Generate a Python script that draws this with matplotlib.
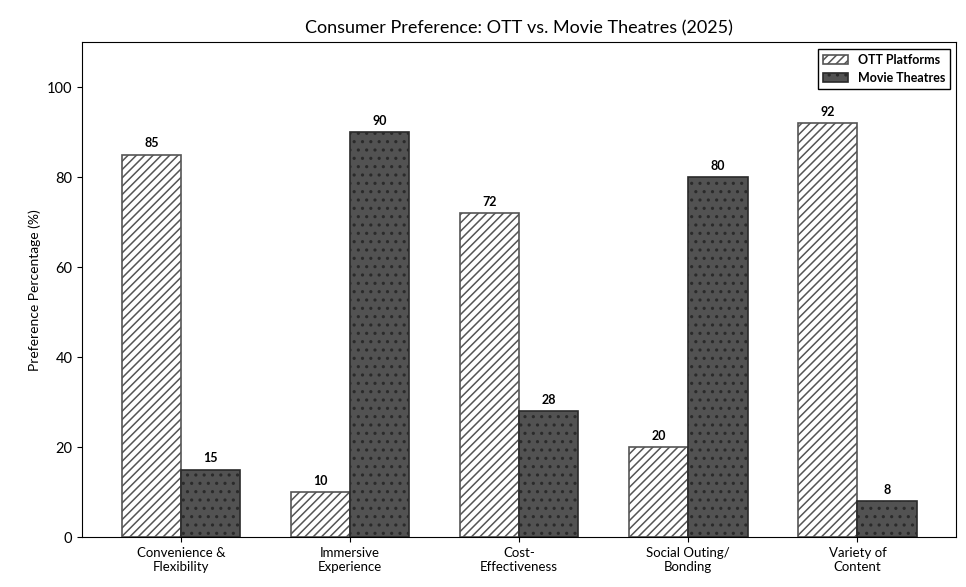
import matplotlib.pyplot as plt
import numpy as np

plt.rcParams['font.family'] = ['Lato', 'DejaVu Sans']

categories = ['Convenience &\nFlexibility', 'Immersive\nExperience', 'Cost-\nEffectiveness',
              'Social Outing/\nBonding', 'Variety of\nContent']
ott = [85, 10, 72, 20, 92]
theatres = [15, 90, 28, 80, 8]

fig = plt.figure(figsize=(9.66, 5.87), dpi=100)
ax = fig.add_axes([0.085, 0.085, 0.905, 0.843])

x = np.arange(len(categories))
w = 0.35
plt.rcParams['hatch.linewidth'] = 1.1
b1 = ax.bar(x - w/2, ott, w, facecolor='white', edgecolor='#555555', hatch='////',
            linewidth=1.2, label='OTT Platforms')
b2 = ax.bar(x + w/2, theatres, w, facecolor='#525252', edgecolor='#2a2a2a', hatch='..',
            linewidth=1.2, label='Movie Theatres')

for bars in (b1, b2):
    for rect in bars:
        h = rect.get_height()
        ax.annotate(str(int(h)), (rect.get_x() + rect.get_width()/2, h),
                    xytext=(0, 4), textcoords='offset points', ha='center', va='bottom',
                    fontsize=9, fontweight='bold')

ax.set_xticks(x)
ax.set_xticklabels(categories, fontsize=9.5)
ax.set_ylim(0, 110)
ax.set_yticks([0, 20, 40, 60, 80, 100])
ax.tick_params(axis='y', labelsize=10.5)
ax.set_ylabel('Preference Percentage (%)', fontsize=10)
ax.set_title('Consumer Preference: OTT vs. Movie Theatres (2025)', fontsize=13, pad=6)
leg = ax.legend(loc='upper right', fontsize=9, fancybox=False, edgecolor='black',
                framealpha=1, prop={'weight': 'bold', 'size': 9})

fig.savefig('out.png', dpi=100)
